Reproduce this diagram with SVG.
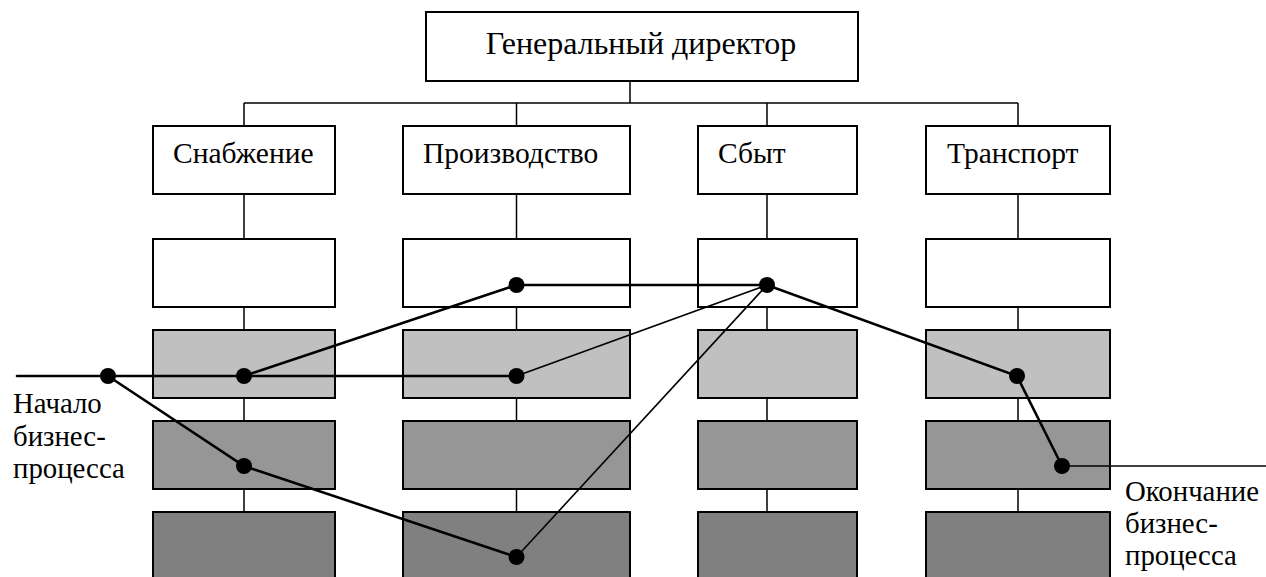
<svg xmlns="http://www.w3.org/2000/svg" width="1266" height="577" viewBox="0 0 1266 577">
  <style>
    .box { stroke: #000; stroke-width: 2; }
    .white { fill: #fff; }
    .g1 { fill: #c0c0c0; }
    .g2 { fill: #969696; }
    .g3 { fill: #808080; }
    .link { stroke: #000; stroke-width: 1.5; fill: none; }
    .path { stroke: #000; stroke-width: 2.6; fill: none; stroke-linecap: round; }
    .thin { stroke: #000; stroke-width: 1.6; fill: none; }
    .dot { fill: #000; }
  </style>
  <rect width="1266" height="577" fill="#fff"/>

  <!-- hierarchy links -->
  <g id="connectors">
    <path class="link" d="M630,81 V103 M244,103 H1018 M244,103 V126 M516.5,103 V126 M767,103 V126 M1018,103 V126"/>
    <!-- column spines between stacked boxes -->
    <path class="link" d="M244,194 V239 M244,307 V330 M244,398 V421 M244,489 V512"/>
    <path class="link" d="M516.5,194 V239 M516.5,307 V330 M516.5,398 V421 M516.5,489 V512"/>
    <path class="link" d="M767,194 V239 M767,307 V330 M767,398 V421 M767,489 V512"/>
    <path class="link" d="M1018,194 V239 M1018,307 V330 M1018,398 V421 M1018,489 V512"/>
  </g>

  <g font-family="Liberation Serif, Times New Roman, serif" fill="#000">
    <!-- top level -->
    <g id="director">
      <rect class="box white" x="426" y="12" width="432" height="69"/>
      <text x="641" y="54" font-size="32" text-anchor="middle">Генеральный директор</text>
    </g>

    <!-- departments -->
    <g id="dept-supply">
      <rect class="box white" x="153" y="126" width="182" height="68"/>
      <text x="173" y="163" font-size="29.5">Снабжение</text>
    </g>
    <g id="dept-production">
      <rect class="box white" x="403" y="126" width="227" height="68"/>
      <text x="423" y="163" font-size="29.5">Производство</text>
    </g>
    <g id="dept-sales">
      <rect class="box white" x="698" y="126" width="159" height="68"/>
      <text x="718" y="163" font-size="29.5">Сбыт</text>
    </g>
    <g id="dept-transport">
      <rect class="box white" x="926" y="126" width="184" height="68"/>
      <text x="947" y="163" font-size="29.5">Транспорт</text>
    </g>
  </g>

  <!-- functional levels per department -->
  <g id="supply-levels">
    <rect class="box white" x="153" y="239" width="182" height="68"/>
    <rect class="box g1" x="153" y="330" width="182" height="68"/>
    <rect class="box g2" x="153" y="421" width="182" height="68"/>
    <rect class="box g3" x="153" y="512" width="182" height="80"/>
  </g>
  <g id="production-levels">
    <rect class="box white" x="403" y="239" width="227" height="68"/>
    <rect class="box g1" x="403" y="330" width="227" height="68"/>
    <rect class="box g2" x="403" y="421" width="227" height="68"/>
    <rect class="box g3" x="403" y="512" width="227" height="80"/>
  </g>
  <g id="sales-levels">
    <rect class="box white" x="698" y="239" width="159" height="68"/>
    <rect class="box g1" x="698" y="330" width="159" height="68"/>
    <rect class="box g2" x="698" y="421" width="159" height="68"/>
    <rect class="box g3" x="698" y="512" width="159" height="80"/>
  </g>
  <g id="transport-levels">
    <rect class="box white" x="926" y="239" width="184" height="68"/>
    <rect class="box g1" x="926" y="330" width="184" height="68"/>
    <rect class="box g2" x="926" y="421" width="184" height="68"/>
    <rect class="box g3" x="926" y="512" width="184" height="80"/>
  </g>

  <!-- business process route -->
  <g id="process">
    <path class="path" d="M17,376 H516.5"/>
    <path class="path" d="M108,376 L244,466 L516.5,557"/>
    <path class="path" d="M244,376 L516.5,285 H767 L1017,376 L1062,466"/>
    <path class="thin" d="M516.5,557 L767,285"/>
    <path class="thin" d="M516.5,376 L767,285"/>
    <path class="thin" d="M1062,466 H1266"/>
    <circle class="dot" cx="108" cy="376" r="8"/>
    <circle class="dot" cx="244" cy="376" r="8"/>
    <circle class="dot" cx="516.5" cy="376" r="8"/>
    <circle class="dot" cx="244" cy="466" r="8"/>
    <circle class="dot" cx="516.5" cy="557" r="8"/>
    <circle class="dot" cx="516.5" cy="285" r="8"/>
    <circle class="dot" cx="767" cy="285" r="8"/>
    <circle class="dot" cx="1017" cy="376" r="8"/>
    <circle class="dot" cx="1062" cy="466" r="8"/>
  </g>

  <g id="start-label" font-family="Liberation Serif, Times New Roman, serif" font-size="28.8" fill="#000">
    <text x="13" y="413">Начало</text>
    <text x="13" y="446">бизнес-</text>
    <text x="13" y="478">процесса</text>
  </g>
  <g id="end-label" font-family="Liberation Serif, Times New Roman, serif" font-size="28.8" fill="#000">
    <text x="1125" y="501">Окончание</text>
    <text x="1125" y="533">бизнес-</text>
    <text x="1125" y="565">процесса</text>
  </g>
</svg>
